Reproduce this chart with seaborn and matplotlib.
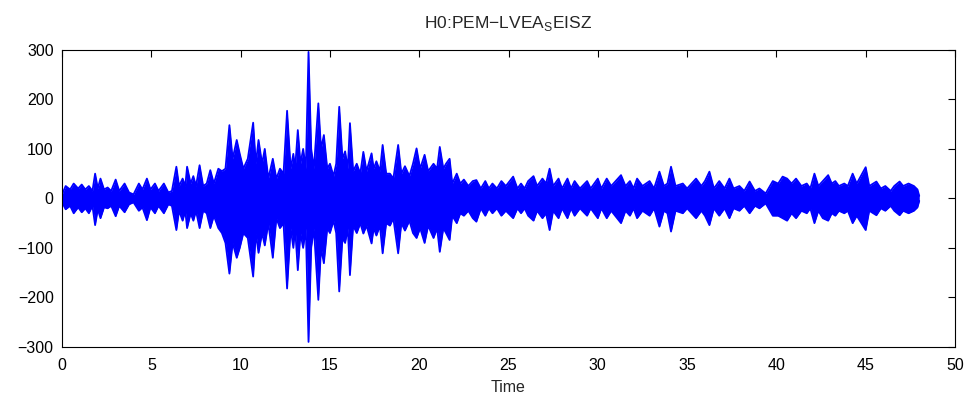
import pandas as pd
import matplotlib
matplotlib.use('Agg')
import matplotlib.pyplot as plt
import seaborn as sns
import numpy as np

# envelope of the trace (time in s, upper and lower peak)
t_env = [0.0, 0.2, 0.45, 0.65, 0.9, 1.1, 1.3, 1.5, 1.7, 1.85, 2.0, 2.15, 2.35, 2.55, 2.75,
         3.0, 3.2, 3.5, 3.75, 4.0, 4.3, 4.5, 4.75, 4.95, 5.2, 5.4, 5.7, 5.95, 6.15, 6.4,
         6.55, 6.75, 6.9, 7.0, 7.2, 7.35, 7.5, 7.7, 7.9, 8.1, 8.3, 8.5, 8.75, 8.95, 9.15,
         9.37, 9.55, 9.78, 9.95, 10.15, 10.4, 10.7, 10.85, 11.0, 11.2, 11.35, 11.55, 11.8, 12.0, 12.2,
         12.4, 12.6, 12.8, 12.95, 13.05, 13.2, 13.35, 13.5, 13.65, 13.8, 13.95, 14.1, 14.35, 14.5, 14.66,
         14.85, 15.0, 15.2, 15.35, 15.52, 15.7, 15.85, 16.0, 16.12, 16.3, 16.5, 16.7, 16.87, 17.05, 17.33,
         17.45, 17.6, 17.8, 17.95, 18.15, 18.36, 18.55, 18.82, 19.0, 19.2, 19.45, 19.65, 19.85, 20.05, 20.3,
         20.5, 20.8, 21.0, 21.15, 21.35, 21.5, 21.7, 21.85, 22.1, 22.3, 22.5, 22.75, 23.0, 23.2, 23.45,
         23.7, 23.9, 24.1, 24.35, 24.6, 24.85, 25.26, 25.5, 25.7, 25.9, 26.1, 26.4, 26.6, 26.9, 27.1,
         27.3, 27.5, 27.8, 28.0, 28.3, 28.5, 28.7, 29.0, 29.4, 29.6, 30.0, 30.2, 30.5, 30.75, 31.3,
         31.55, 31.8, 32.0, 32.2, 32.5, 32.9, 33.15, 33.45, 33.7, 33.9, 34.1, 34.35, 34.76, 35.0, 35.5,
         35.8, 36.0, 36.25, 36.5, 36.8, 37.1, 37.37, 37.6, 37.93, 38.2, 38.5, 38.8, 39.05, 39.4, 39.8,
         40.1, 40.35, 40.6, 40.85, 41.1, 41.4, 41.7, 41.9, 42.13, 42.35, 42.6, 42.9, 43.1, 43.3, 43.5,
         43.8, 44.0, 44.27, 44.5, 45.0, 45.2, 45.6, 45.85, 46.1, 46.4, 46.6, 46.9, 47.1, 47.4, 47.7,
         47.9, 48.0]
upper = [8, 25, 18, 30, 20, 28, 18, 25, 15, 50, 20, 40, 18, 22, 15,
         38, 15, 30, 12, 8, 30, 18, 40, 18, 30, 15, 30, 12, 15, 64,
         25, 40, 25, 64, 30, 45, 25, 67, 25, 30, 57, 30, 60, 55, 60,
         148, 80, 118, 90, 60, 80, 153, 70, 118, 70, 100, 40, 80, 40, 60,
         50, 177, 60, 90, 60, 138, 70, 100, 60, 296, 100, 60, 192, 100, 128,
         60, 70, 45, 70, 185, 80, 95, 60, 152, 55, 70, 50, 94, 55, 91,
         60, 75, 55, 108, 50, 50, 40, 108, 50, 65, 45, 70, 101, 60, 88,
         55, 70, 60, 104, 60, 70, 80, 30, 50, 30, 38, 25, 35, 37, 20,
         35, 20, 30, 20, 35, 25, 44, 20, 30, 20, 35, 45, 25, 40, 30,
         60, 25, 40, 20, 40, 20, 35, 20, 35, 20, 40, 20, 40, 25, 47,
         25, 35, 20, 40, 25, 35, 20, 54, 25, 30, 64, 25, 30, 20, 40,
         25, 35, 54, 20, 35, 20, 40, 20, 25, 15, 34, 15, 20, 10, 35,
         30, 44, 40, 30, 40, 25, 30, 20, 50, 25, 35, 47, 30, 35, 25,
         30, 25, 50, 30, 63, 25, 34, 20, 25, 15, 25, 34, 25, 30, 25,
         18, 5]
lower = [-8, -22, -15, -30, -18, -28, -20, -30, -15, -54, -22, -40, -18, -20, -15,
         -36, -15, -28, -12, -8, -25, -18, -44, -18, -30, -15, -30, -12, -15, -64,
         -25, -45, -25, -60, -30, -45, -25, -60, -25, -30, -60, -35, -60, -70, -90,
         -152, -90, -120, -100, -70, -80, -158, -70, -110, -70, -95, -50, -120, -40, -60,
         -50, -182, -60, -100, -60, -145, -70, -100, -60, -290, -100, -60, -205, -100, -131,
         -60, -70, -45, -70, -188, -80, -90, -60, -155, -55, -70, -50, -71, -55, -91,
         -60, -75, -55, -111, -50, -55, -40, -111, -50, -65, -45, -70, -80, -60, -90,
         -55, -80, -60, -108, -60, -70, -84, -35, -50, -30, -35, -25, -40, -47, -20,
         -35, -20, -30, -20, -35, -25, -40, -20, -30, -20, -35, -45, -25, -40, -30,
         -64, -25, -40, -20, -40, -20, -35, -20, -35, -20, -40, -20, -40, -25, -50,
         -25, -35, -20, -40, -25, -35, -20, -57, -25, -30, -67, -25, -30, -20, -40,
         -25, -35, -54, -20, -35, -20, -40, -20, -25, -15, -30, -15, -20, -10, -35,
         -35, -40, -45, -30, -40, -25, -30, -20, -50, -25, -40, -45, -30, -35, -25,
         -30, -25, -50, -35, -64, -25, -34, -20, -25, -15, -25, -34, -25, -30, -25,
         -18, -5]

x_ticks = [0, 5, 10, 15, 20, 25, 30, 35, 40, 45, 50]
y_ticks = [-300, -200, -100, 0, 100, 200, 300]

df = pd.DataFrame({'Time': t_env, 'upper': upper, 'lower': lower})

sns.set_style('white')
plt.rcParams['font.family'] = ['Liberation Sans', 'DejaVu Sans']
plt.rcParams['mathtext.fontset'] = 'custom'
plt.rcParams['mathtext.rm'] = 'Liberation Sans'

fig = plt.figure(figsize=(9.7, 4.01), dpi=100)
ax = fig.add_axes([0.064, 0.135, 0.9205, 0.7405])

# filled trace between the two envelopes, outlines drawn with seaborn
ax.fill_between(df['Time'], df['lower'], df['upper'], color='#0000ff', linewidth=0)
sns.lineplot(x='Time', y='upper', data=df, ax=ax, color='#0000ff', linewidth=1.3)
sns.lineplot(x='Time', y='lower', data=df, ax=ax, color='#0000ff', linewidth=1.3)

ax.set_xlim(0, 50)
ax.set_ylim(-300, 300)
ax.set_xticks(x_ticks)
ax.set_yticks(y_ticks)
ax.set_yticklabels([str(v).replace('-', '\u2212') for v in y_ticks])
ax.tick_params(direction='in', top=True, right=True, length=5, width=0.8,
               labelsize=11.5, colors='black', pad=6)
ax.tick_params(axis='x', pad=8)
for s in ax.spines.values():
    s.set_visible(True)
    s.set_color('black')
    s.set_linewidth(0.8)

ax.set_xlabel('Time', fontsize=11.5, labelpad=5)
ax.set_ylabel('')
ax.set_title('H0:PEM\u2212LVEA$_\\mathregular{S}$EISZ', fontsize=12.5, pad=16)

plt.savefig('out.png', dpi=100)
